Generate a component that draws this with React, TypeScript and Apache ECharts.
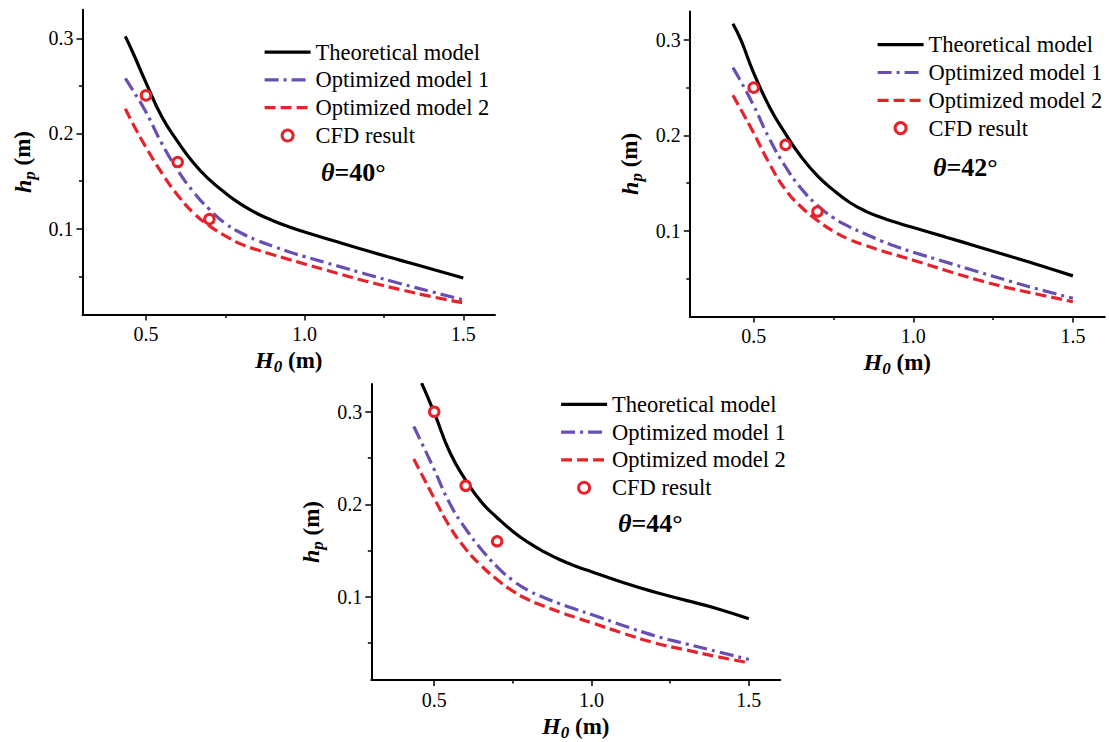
import React, { useEffect, useRef } from "react";
import * as echarts from "echarts";

// ---------- data ----------
const H0 = [0.435, 0.46, 0.5, 0.55, 0.6, 0.65, 0.7, 0.75, 0.8, 0.85, 0.9, 0.95, 1.0, 1.1, 1.2, 1.3, 1.4, 1.5];

// theta = 40°
const theo40 = [0.302, 0.284, 0.2535, 0.2175, 0.1915, 0.169, 0.1515, 0.1375, 0.1255, 0.116, 0.1085, 0.102, 0.0965, 0.0865, 0.0765, 0.067, 0.0577, 0.0483];
const opt1_40 = [0.258, 0.2448, 0.2225, 0.1895, 0.1615, 0.1385, 0.1202, 0.1055, 0.0955, 0.0878, 0.0815, 0.0758, 0.0707, 0.0612, 0.0517, 0.0425, 0.0338, 0.0252];
const opt2_40 = [0.226, 0.2095, 0.1855, 0.1585, 0.1352, 0.1165, 0.103, 0.0925, 0.0838, 0.0778, 0.0727, 0.0678, 0.063, 0.0535, 0.0443, 0.0362, 0.0287, 0.0222];

// theta = 42°
const theo42 = [0.317, 0.3, 0.2655, 0.2295, 0.2015, 0.177, 0.1575, 0.1425, 0.1298, 0.1205, 0.1137, 0.1082, 0.1032, 0.0934, 0.0834, 0.0734, 0.0632, 0.0525];
const opt1_42 = [0.271, 0.2565, 0.2312, 0.196, 0.167, 0.1438, 0.1265, 0.1135, 0.104, 0.0965, 0.0892, 0.0828, 0.0773, 0.0672, 0.0571, 0.0472, 0.0378, 0.029];
const opt2_42 = [0.242, 0.227, 0.2025, 0.17, 0.1428, 0.1245, 0.1107, 0.0993, 0.0907, 0.0845, 0.079, 0.074, 0.069, 0.0585, 0.0485, 0.0398, 0.0325, 0.0254];

// theta = 44°
const theo44 = [null, 0.331, 0.299, 0.256, 0.2262, 0.2025, 0.1855, 0.1707, 0.1585, 0.1485, 0.14, 0.133, 0.1272, 0.1155, 0.1052, 0.0962, 0.0872, 0.0763];
const opt1_44 = [0.284, 0.2665, 0.2375, 0.2005, 0.1735, 0.1512, 0.1325, 0.1177, 0.1068, 0.099, 0.0925, 0.0865, 0.0808, 0.0691, 0.058, 0.0492, 0.0408, 0.0322];
const opt2_44 = [0.249, 0.2325, 0.2065, 0.1756, 0.1518, 0.1335, 0.1186, 0.1062, 0.0968, 0.0899, 0.0835, 0.0776, 0.072, 0.0607, 0.0503, 0.0426, 0.0353, 0.0288];

// CFD results
const H0cfd = [0.5, 0.6, 0.7];
const cfd40 = [0.24, 0.17, 0.11];
const cfd42 = [0.25, 0.19, 0.12];
const cfd44 = [0.3, 0.22, 0.16];

// axis ticks
const xMajor = [0.5, 1.0, 1.5];
const xMinor = [0.75, 1.25];
const yMajor = [0.1, 0.2, 0.3];
const yMinor = [0.05, 0.15, 0.25];

const thetaLabels = ["40", "42", "44"];
const seriesNames = ["Theoretical model", "Optimized model 1", "Optimized model 2", "CFD result"];

const FONT = "Liberation Serif, Times New Roman, serif";
const BLACK = "#000000";
const PURPLE = "#6a4fb3";
const RED = "#e6232b";
const LW = 3.2;

const panels = [
  { grid: { left: 82.5, top: 9.7, width: 412.5, height: 304.7 }, theo: theo40, opt1: opt1_40, opt2: opt2_40, cfd: cfd40,
    legend: { left: 263, top: 38.2 }, theta: { x: 321, y: 172 } },
  { grid: { left: 689.8, top: 11.4, width: 415, height: 305 }, theo: theo42, opt1: opt1_42, opt2: opt2_42, cfd: cfd42,
    legend: { left: 876, top: 30.8 }, theta: { x: 933, y: 167 } },
  { grid: { left: 371.3, top: 384, width: 409, height: 301.5 }, theo: theo44, opt1: opt1_44, opt2: opt2_44, cfd: cfd44,
    legend: { left: 559.5, top: 390.4 }, theta: { x: 618, y: 523 } },
];

function pairs(xs: number[], ys: (number | null)[]) {
  return xs.map((x, i) => [x, ys[i]]).filter((d) => d[1] !== null);
}

function buildOption() {
  const grid: any[] = [];
  const xAxis: any[] = [];
  const yAxis: any[] = [];
  const series: any[] = [];
  const legend: any[] = [];
  const graphic: any[] = [];

  const tickStyle = { color: BLACK, width: 1.5 };
  const labelStyle = { fontFamily: FONT, fontSize: 20, color: BLACK };
  const nameStyle = {
    fontFamily: FONT,
    fontSize: 23,
    fontWeight: "bold",
    color: BLACK,
    lineHeight: 30,
    rich: {
      i: { fontFamily: FONT, fontSize: 24, fontWeight: "bold", fontStyle: "italic", color: BLACK },
      s: { fontFamily: FONT, fontSize: 17, fontWeight: "bold", fontStyle: "italic", color: BLACK, lineHeight: 17, verticalAlign: "bottom" },
      n: { fontFamily: FONT, fontSize: 23, fontWeight: "bold", color: BLACK },
    },
  };

  const lineStyles = [
    { color: BLACK, width: LW, type: "solid" },
    { color: PURPLE, width: LW, type: [14, 5, 3, 5] },
    { color: RED, width: LW, type: [11, 5] },
  ];

  panels.forEach((p, k) => {
    grid.push({ ...p.grid, containLabel: false });
    xAxis.push({
      type: "value", gridIndex: k, min: 0.3, max: 1.6, position: "bottom",
      axisLine: { show: true, onZero: false, lineStyle: { color: BLACK, width: 2 } },
      axisTick: { show: true, inside: false, length: 6, lineStyle: tickStyle, customValues: xMajor },
      axisLabel: { ...labelStyle, margin: 10, customValues: xMajor, formatter: (v: number) => v.toFixed(1) },
      splitLine: { show: false },
      name: "{i|H}{s|0}{n| (m)}", nameLocation: "middle", nameGap: 22, nameTextStyle: nameStyle,
    });
    xAxis.push({
      type: "value", gridIndex: k, min: 0.3, max: 1.6, position: "bottom",
      axisLine: { show: false, onZero: false },
      axisTick: { show: true, inside: false, length: 3.5, lineStyle: tickStyle, customValues: xMinor },
      axisLabel: { show: false },
      splitLine: { show: false },
    });
    yAxis.push({
      type: "value", gridIndex: k, min: 0.01, max: 0.33, position: "left",
      axisLine: { show: true, onZero: false, lineStyle: { color: BLACK, width: 2 } },
      axisTick: { show: true, inside: false, length: 6, lineStyle: tickStyle, customValues: yMajor },
      axisLabel: { ...labelStyle, margin: 9, customValues: yMajor, formatter: (v: number) => v.toFixed(1) },
      splitLine: { show: false },
      name: "{i|h}{s|p}{n| (m)}", nameLocation: "middle", nameRotate: 90, nameGap: 45, nameTextStyle: nameStyle,
    });
    yAxis.push({
      type: "value", gridIndex: k, min: 0.01, max: 0.33, position: "left",
      axisLine: { show: false, onZero: false },
      axisTick: { show: true, inside: false, length: 3.5, lineStyle: tickStyle, customValues: yMinor },
      axisLabel: { show: false },
      splitLine: { show: false },
    });

    const xi = 2 * k;
    const yi = 2 * k;
    [p.theo, p.opt1, p.opt2].forEach((ys, j) => {
      series.push({
        type: "line", name: seriesNames[j], xAxisIndex: xi, yAxisIndex: yi,
        data: pairs(H0, ys), symbol: "none", smooth: 0.5, clip: true, z: 3,
        lineStyle: lineStyles[j], itemStyle: { color: lineStyles[j].color },
      });
    });
    series.push({
      type: "scatter", name: seriesNames[3], xAxisIndex: xi, yAxisIndex: yi,
      data: pairs(H0cfd, p.cfd), symbol: "circle", symbolSize: 9.5, z: 5,
      itemStyle: { color: "#ffffff", borderColor: RED, borderWidth: 3, opacity: 1 },
    });

    legend.push({
      left: p.legend.left, top: p.legend.top, orient: "vertical",
      itemWidth: 46, itemHeight: 11, itemGap: 0, padding: 0, selectedMode: false,
      textStyle: { fontFamily: FONT, fontSize: 22.5, color: BLACK, lineHeight: 27.8 },
      data: [
        { name: seriesNames[0], itemStyle: { opacity: 0 }, lineStyle: { width: LW } },
        { name: seriesNames[1], itemStyle: { opacity: 0 }, lineStyle: { width: LW } },
        { name: seriesNames[2], itemStyle: { opacity: 0 }, lineStyle: { width: LW } },
        { name: seriesNames[3], itemStyle: { color: "#ffffff", borderColor: RED, borderWidth: 3, opacity: 1 } },
      ],
    });

    graphic.push({
      type: "text", x: p.theta.x, y: p.theta.y, z: 10,
      style: {
        text: "{t|θ}{b|=" + thetaLabels[k] + "°}",
        fill: BLACK,
        verticalAlign: "middle",
        rich: {
          t: { fontFamily: FONT, fontSize: 26, fontWeight: "bold", fontStyle: "italic", fill: BLACK },
          b: { fontFamily: FONT, fontSize: 26, fontWeight: "bold", fill: BLACK },
        },
      },
    });
  });

  return {
    animation: false,
    backgroundColor: "#ffffff",
    textStyle: { fontFamily: FONT },
    grid, xAxis, yAxis, series, legend, graphic,
  };
}

export default function App() {
  const ref = useRef<HTMLDivElement>(null);
  useEffect(() => {
    if (!ref.current) return;
    const chart = echarts.init(ref.current, null, { renderer: "svg" });
    chart.setOption(buildOption() as any);
    return () => chart.dispose();
  }, []);
  return (
    <div
      ref={ref}
      style={{ position: "fixed", left: 0, top: 0, width: 1109, height: 742, background: "#fff" }}
    />
  );
}
